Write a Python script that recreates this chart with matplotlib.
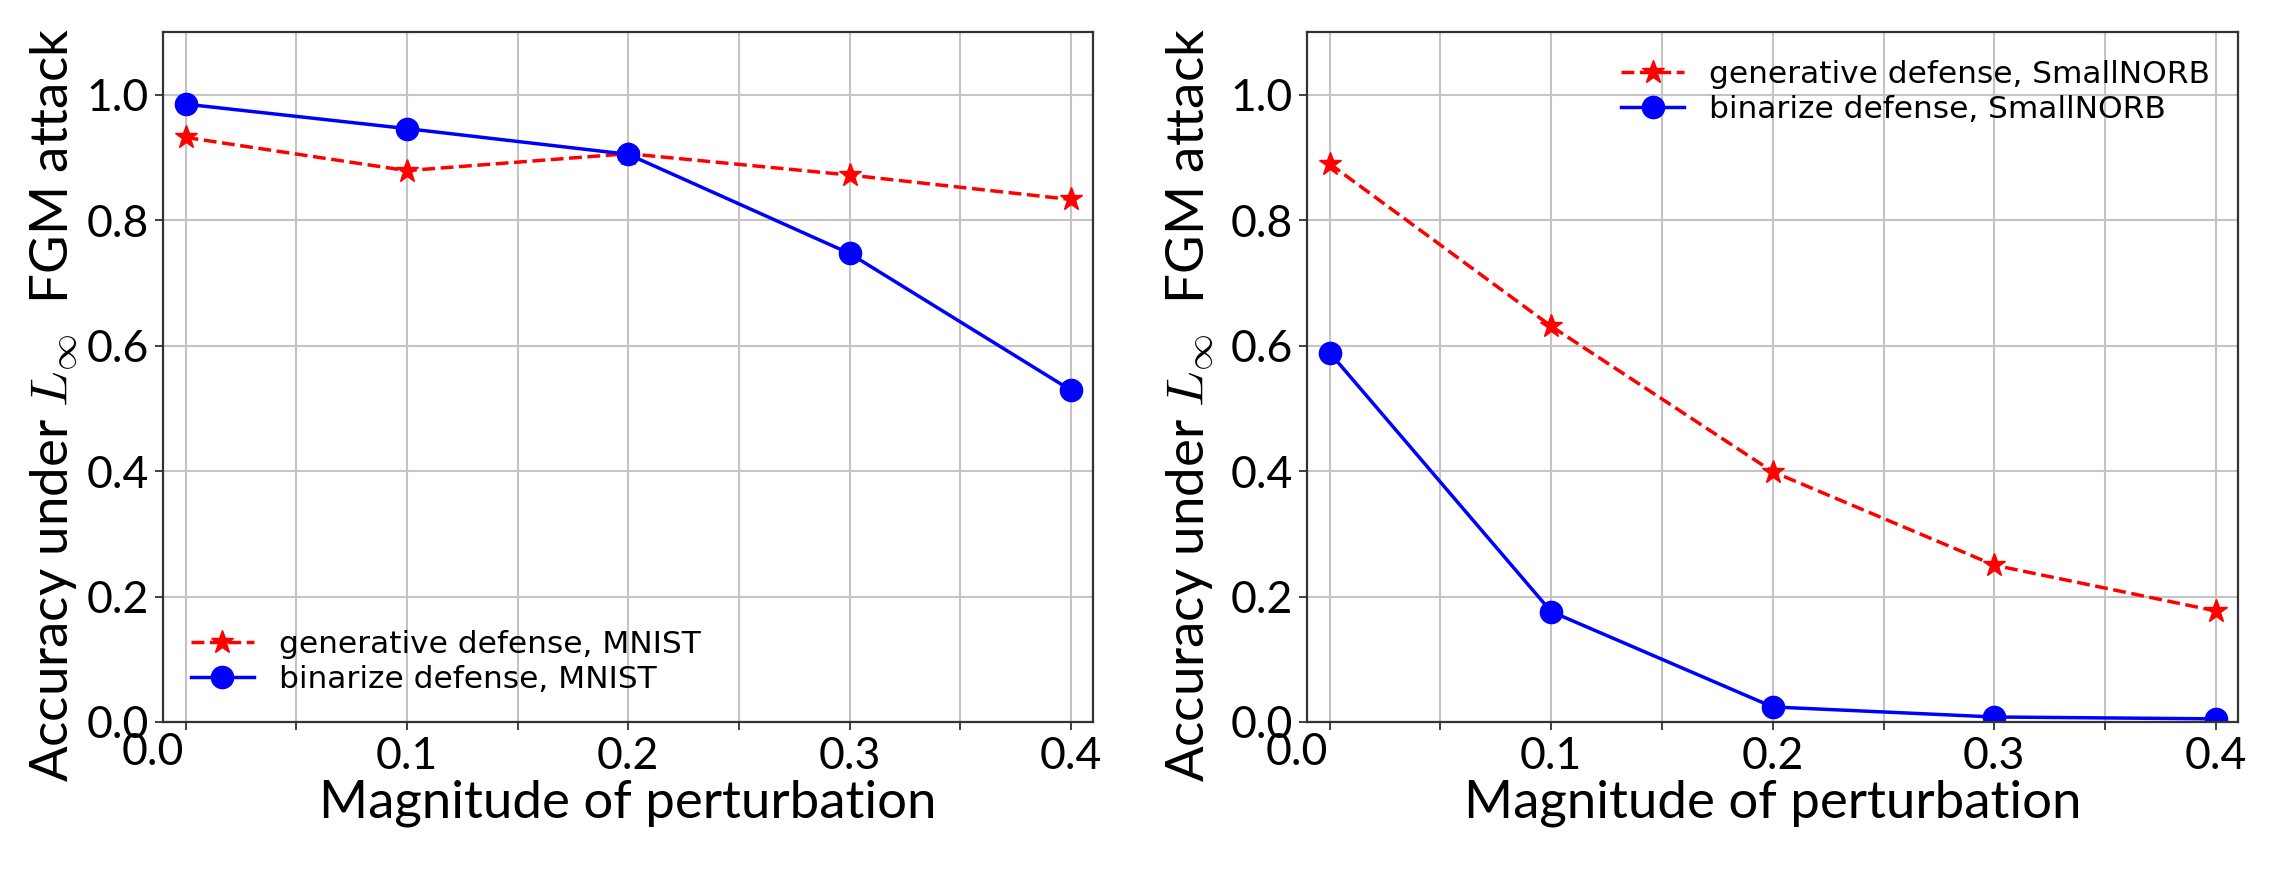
import numpy as np
import matplotlib
matplotlib.use("Agg")
import matplotlib.pyplot as plt
import matplotlib.transforms as mtransforms

plt.rcParams["mathtext.fontset"] = "cm"

# data
eps = [0.0, 0.1, 0.2, 0.3, 0.4]
gen_mnist = [0.932, 0.879, 0.906, 0.872, 0.833]
bin_mnist = [0.985, 0.946, 0.905, 0.747, 0.529]
gen_norb = [0.890, 0.631, 0.399, 0.250, 0.177]
bin_norb = [0.589, 0.176, 0.024, 0.008, 0.005]

xticks = [0.0, 0.05, 0.1, 0.15, 0.2, 0.25, 0.3, 0.35, 0.4]
xticklabels = ["", "", "0.1", "", "0.2", "", "0.3", "", "0.4"]
yticks = [0.0, 0.2, 0.4, 0.6, 0.8, 1.0]

label_font = "Lato"
ylab = r"Accuracy under $L_\infty$  FGM attack"

fig = plt.figure(figsize=(22.74, 8.75), dpi=100)
ax1 = fig.add_axes([163 / 2274, 153 / 875, 930 / 2274, 690 / 875])
ax2 = fig.add_axes([1307 / 2274, 153 / 875, 931 / 2274, 690 / 875])

panels = [
    (ax1, gen_mnist, bin_mnist, "MNIST", "lower left"),
    (ax2, gen_norb, bin_norb, "SmallNORB", "upper right"),
]

for ax, gen, binz, name, loc in panels:
    ax.plot(eps, gen, "r--*", lw=2.5, markersize=17,
            label="generative defense, " + name)
    ax.plot(eps, binz, "b-o", lw=2.5, markersize=16,
            label="binarize defense, " + name)

    ax.set_xlim(-0.0102, 0.41)
    ax.set_ylim(0, 1.1)
    ax.set_xticks(xticks)
    ax.set_xticklabels(xticklabels)
    ax.set_yticks(yticks)
    ax.set_yticklabels([f"{v:.1f}" for v in yticks])
    ax.grid(True, color="#c4c4c4", lw=1.5)
    ax.set_axisbelow(True)
    ax.tick_params(direction="out", length=6, width=1.3, pad=4, color="#333333")
    for lab in ax.get_xticklabels() + ax.get_yticklabels():
        lab.set_fontfamily(label_font)
        lab.set_fontsize(32)
    for sp in ax.spines.values():
        sp.set_linewidth(1.6)
        sp.set_color("#333333")

    # the "0.0" x label sits left of its tick in the reference
    off = mtransforms.offset_copy(ax.get_xaxis_transform(), fig=fig,
                                  x=-33, y=-10, units="dots")
    ax.text(0.0, 0.0, "0.0", transform=off, ha="center", va="top",
            fontfamily=label_font, fontsize=32)

    ax.set_xlabel("Magnitude of perturbation", fontfamily=label_font,
                  fontsize=38, labelpad=2)
    ax.set_ylabel(ylab, fontfamily=label_font, fontsize=38)

    ax.legend(loc=loc, frameon=False, fontsize=22.5, labelspacing=0.2,
              prop={"family": "DejaVu Sans", "size": 22.5})

ax1.yaxis.set_label_coords(-0.088, 0.46)
ax2.yaxis.set_label_coords(-0.097, 0.46)

fig.savefig("out.png", dpi=100)
